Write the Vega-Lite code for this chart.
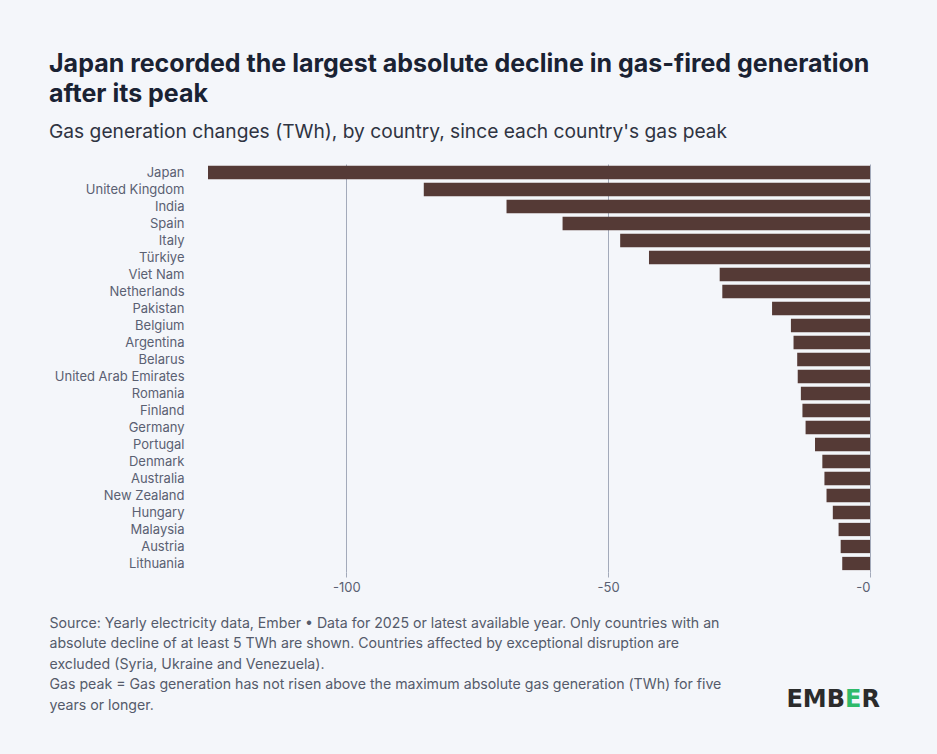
{
  "$schema": "https://vega.github.io/schema/vega-lite/v6.json",
  "autosize": {"type": "none"},
  "width": 662,
  "height": 408,
  "padding": {"left": 208, "top": 164, "right": 67, "bottom": 182},
  "background": "#f4f6fa",
  "config": {
    "font": "Inter",
    "view": {"stroke": null}
  },
  "title": {
    "text": ["Japan recorded the largest absolute decline in gas-fired generation", "after its peak"],
    "subtitle": "Gas generation changes (TWh), by country, since each country's gas peak",
    "anchor": "start",
    "frame": "group",
    "dx": -159,
    "fontSize": 25,
    "fontWeight": 700,
    "color": "#1a2233",
    "lineHeight": 30,
    "subtitleFontSize": 19.2,
    "subtitleColor": "#2f3442",
    "subtitlePadding": 16,
    "offset": 22
  },
  "data": {
    "values": [
      {"country": "Japan", "change": -126.4},
      {"country": "United Kingdom", "change": -85.2},
      {"country": "India", "change": -69.4},
      {"country": "Spain", "change": -58.7},
      {"country": "Italy", "change": -47.7},
      {"country": "Türkiye", "change": -42.2},
      {"country": "Viet Nam", "change": -28.7},
      {"country": "Netherlands", "change": -28.2},
      {"country": "Pakistan", "change": -18.7},
      {"country": "Belgium", "change": -15.1},
      {"country": "Argentina", "change": -14.6},
      {"country": "Belarus", "change": -13.9},
      {"country": "United Arab Emirates", "change": -13.8},
      {"country": "Romania", "change": -13.2},
      {"country": "Finland", "change": -12.9},
      {"country": "Germany", "change": -12.3},
      {"country": "Portugal", "change": -10.5},
      {"country": "Denmark", "change": -9.1},
      {"country": "Australia", "change": -8.7},
      {"country": "New Zealand", "change": -8.3},
      {"country": "Hungary", "change": -7.1},
      {"country": "Malaysia", "change": -6.0},
      {"country": "Austria", "change": -5.6},
      {"country": "Lithuania", "change": -5.3}
    ]
  },
  "encoding": {
    "y": {
      "field": "country",
      "type": "nominal",
      "scale": {
        "domain": ["Japan", "United Kingdom", "India", "Spain", "Italy", "Türkiye", "Viet Nam", "Netherlands", "Pakistan", "Belgium", "Argentina", "Belarus", "United Arab Emirates", "Romania", "Finland", "Germany", "Portugal", "Denmark", "Australia", "New Zealand", "Hungary", "Malaysia", "Austria", "Lithuania"],
        "paddingInner": 0.22,
        "paddingOuter": 0.11
      },
      "axis": {
        "title": null,
        "ticks": false,
        "domain": false,
        "labelPadding": 24,
        "labelFontSize": 13,
        "labelColor": "#5a6072"
      }
    }
  },
  "layer": [
    {
      "mark": {"type": "bar", "color": "#553a36"},
      "encoding": {
        "x": {
          "field": "change",
          "type": "quantitative",
          "scale": {"domain": [-126.4, 0], "nice": false},
          "axis": {
            "values": [-100, -50, 0],
            "labelExpr": "'-' + abs(datum.value)",
            "grid": true,
            "gridColor": "#a3aaba",
            "gridWidth": 1,
            "tickColor": "#a3aaba",
            "tickSize": 5,
            "domain": false,
            "labelFontSize": 13,
            "labelColor": "#5a6072",
            "labelPadding": 4,
            "title": [
              "Source: Yearly electricity data, Ember • Data for 2025 or latest available year. Only countries with an",
              "absolute decline of at least 5 TWh are shown. Countries affected by exceptional disruption are",
              "excluded (Syria, Ukraine and Venezuela).",
              "Gas peak = Gas generation has not risen above the maximum absolute gas generation (TWh) for five",
              "years or longer."
            ],
            "titleFontSize": 14.15,
            "titleFontWeight": "normal",
            "titleColor": "#555b6b",
            "titleLineHeight": 20.6,
            "titleAlign": "left",
            "titleAnchor": "start",
            "titleBaseline": "top",
            "titleX": -159,
            "titleY": 44
          }
        }
      }
    },
    {
      "data": {"values": [{"logo": "EMB"}]},
      "mark": {"type": "text", "align": "right", "baseline": "middle", "dx": -25, "dy": 136.5, "font": "DejaVu Sans", "fontSize": 24, "fontWeight": 700, "color": "#2b2b2b"},
      "encoding": {
        "x": {"datum": 0, "type": "quantitative"},
        "y": {"datum": "Lithuania"},
        "text": {"field": "logo"}
      }
    },
    {
      "data": {"values": [{"logo": "E"}]},
      "mark": {"type": "text", "align": "left", "baseline": "middle", "dx": -25, "dy": 136.5, "font": "DejaVu Sans", "fontSize": 24, "fontWeight": 700, "color": "#2fba6a"},
      "encoding": {
        "x": {"datum": 0, "type": "quantitative"},
        "y": {"datum": "Lithuania"},
        "text": {"field": "logo"}
      }
    },
    {
      "data": {"values": [{"logo": "R"}]},
      "mark": {"type": "text", "align": "left", "baseline": "middle", "dx": -8.5, "dy": 136.5, "font": "DejaVu Sans", "fontSize": 24, "fontWeight": 700, "color": "#2b2b2b"},
      "encoding": {
        "x": {"datum": 0, "type": "quantitative"},
        "y": {"datum": "Lithuania"},
        "text": {"field": "logo"}
      }
    }
  ]
}
